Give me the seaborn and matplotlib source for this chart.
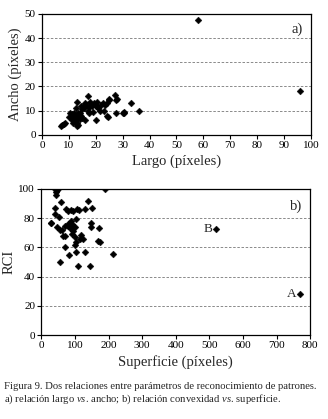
import numpy as np
import pandas as pd
import matplotlib
matplotlib.use("Agg")
import matplotlib.pyplot as plt
import seaborn as sns

# Panel a) largo vs ancho
largo = [7, 7.5, 8, 8.5, 10, 10.5, 11, 11, 11.5, 12, 12, 12.5, 12.5, 13, 13, 13, 13.5, 13.5, 14, 14,
         14, 14.5, 15, 15, 15.5, 16, 16, 16.5, 17, 17, 17.5, 17.5, 18, 18.5, 19, 19.5, 20, 20, 20.5, 21,
         21.5, 22, 22.5, 23, 23.5, 24, 24.5, 24, 25, 25, 27, 27.5, 28, 27.5, 30, 30.5, 30.5, 33, 36,
         11.5, 12, 13.5, 14.5, 16, 18, 21, 13, 58, 96]
ancho = [3.5, 4, 4.5, 5, 7.5, 9, 8.5, 6, 5, 9, 7, 6, 11, 13.5, 8, 5, 4, 7, 9, 6.5,
         8, 12, 10.5, 7, 11, 13, 6, 12.5, 16, 10, 9, 11.5, 13.5, 12, 9.5, 13, 6, 12, 13.5, 11,
         10, 12.5, 13, 10, 12.5, 13, 7.5, 8, 14.5, 15, 16.5, 14.5, 15, 9, 9, 9.5, 9, 13.3, 10,
         6.5, 8, 9, 8, 12.5, 12, 11.5, 3.5, 47.5, 18.3]

# Panel b) superficie vs RCI
superficie = [42, 45, 48, 44, 50, 190, 59, 138, 30, 42, 74, 80, 88, 95, 105, 112, 131, 151, 104, 30,
              48, 55, 148, 148, 171, 168, 175, 212, 57, 110, 146, 131, 104, 82, 70, 69, 118, 125, 104, 99,
              94, 78, 85, 90, 95, 100, 70, 65, 40, 52, 60, 85, 92, 115, 88, 78, 97, 100, 520, 770]
rci = [100, 98, 99, 96, 100, 100, 91, 91.5, 77, 87, 86.5, 85, 85.5, 85, 86, 85.5, 86.5, 87, 79.6, 77,
       74, 72, 77, 74, 73.5, 64.5, 64, 55.6, 50, 47, 47.6, 57, 57, 55, 60, 67.5, 68.6, 65.7, 64, 67,
       71, 75, 77, 76, 74, 74, 75, 68, 83, 81, 72, 73, 69, 66, 78, 76, 74, 62, 72.8, 27.9]
labels_b = {"B": (520, 72.8), "A": (770, 27.9)}

serif = ["Liberation Serif", "DejaVu Serif"]
sns.set_theme(style="white")
plt.rcParams["font.family"] = serif
plt.rcParams["mathtext.fontset"] = "custom"
plt.rcParams["mathtext.rm"] = "Liberation Serif"
plt.rcParams["mathtext.it"] = "Liberation Serif:italic"

fig = plt.figure(figsize=(3.28, 4.19), dpi=100)
ax1 = fig.add_axes([0.128, 0.678, 0.82, 0.289])
ax2 = fig.add_axes([0.126, 0.200, 0.82, 0.349])

da = pd.DataFrame({"largo": largo, "ancho": ancho})
db = pd.DataFrame({"sup": superficie, "rci": rci})

sns.scatterplot(data=da, x="largo", y="ancho", ax=ax1, marker="D", s=12, color="black",
                edgecolor="black", linewidth=0.3, zorder=3)
sns.scatterplot(data=db, x="sup", y="rci", ax=ax2, marker="D", s=12, color="black",
                edgecolor="black", linewidth=0.3, zorder=3)

def style(ax, xlim, ylim, xt, yt, xlabel, ylabel):
    ax.set_xlim(*xlim)
    ax.set_ylim(*ylim)
    ax.set_xticks(xt)
    ax.set_yticks(yt)
    for y in yt[1:-1]:
        ax.axhline(y, color="#777777", lw=0.6, ls=(0, (3, 2)), zorder=1)
    for s in ax.spines.values():
        s.set_visible(True)
        s.set_color("black")
        s.set_linewidth(0.9)
    ax.tick_params(axis="both", direction="out", length=3, width=0.8, labelsize=8,
                   bottom=True, left=True, pad=1.5, colors="black")
    ax.set_xlabel(xlabel, fontsize=10.5, labelpad=3)
    ax.set_ylabel(ylabel, fontsize=10.5, labelpad=2)
    ax.grid(False)

style(ax1, (0, 100), (0, 50), list(range(0, 101, 10)), list(range(0, 51, 10)),
      "Largo (píxeles)", "Ancho (píxeles)")
style(ax2, (0, 800), (0, 100), list(range(0, 801, 100)), list(range(0, 101, 20)),
      "Superficie (píxeles)", "RCI")

ax1.text(0.97, 0.93, "a)", transform=ax1.transAxes, ha="right", va="top", fontsize=10.5)
ax2.text(0.97, 0.93, "b)", transform=ax2.transAxes, ha="right", va="top", fontsize=10.5)
for lab, (x, y) in labels_b.items():
    ax2.annotate(lab, (x, y), xytext=(-3, 0), textcoords="offset points",
                 ha="right", va="center", fontsize=9.5)

fig.text(0.012, 0.030, "Figura 9. Dos relaciones entre parámetros de reconocimiento de patrones.\n"
         "a) relación largo $\\it{vs}$. ancho; b) relación convexidad $\\it{vs}$. superficie.",
         fontsize=7.7, ha="left", va="bottom", linespacing=1.25)

fig.savefig("out.png", dpi=100)
